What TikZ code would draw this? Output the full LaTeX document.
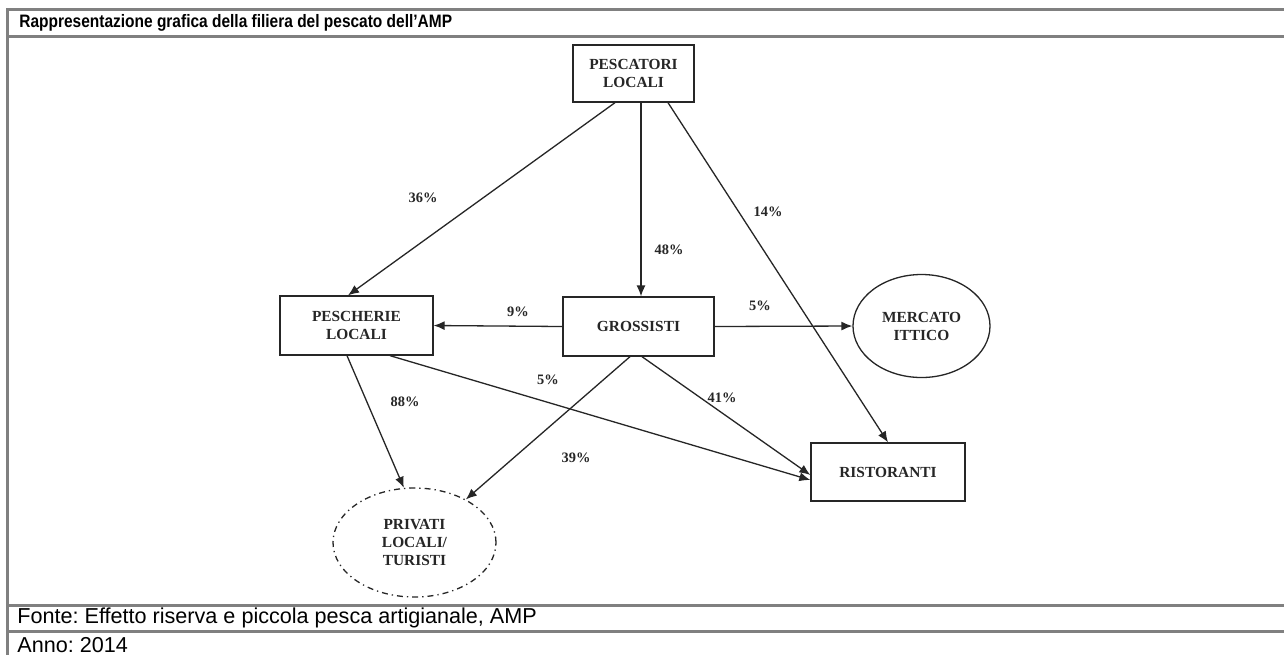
\documentclass[tikz,border=0pt]{standalone}
\usepackage{fontspec}
\setmainfont{Liberation Serif}
\setsansfont{Liberation Sans}
\newfontfamily\titlefont{Liberation Sans}[FakeStretch=0.86]
\usetikzlibrary{arrows.meta,shapes.geometric,calc}
\frenchspacing
\definecolor{frame}{HTML}{808080}
\definecolor{ink}{HTML}{262626}
\tikzset{
  rule/.style={draw=frame,line width=1.5pt},
  boxnode/.style={draw=ink,line width=0.65pt,rectangle,align=center,inner sep=0pt,
     font=\rmfamily\bfseries\fontsize{7.7pt}{9pt}\selectfont,text=ink},
  ellnode/.style={draw=ink,line width=0.65pt,ellipse,align=center,inner sep=0pt,
     font=\rmfamily\bfseries\fontsize{7.7pt}{9pt}\selectfont,text=ink},
  flow/.style={draw=ink,line width=0.65pt,-{Latex[length=5.5pt,width=4.5pt]}},
  pct/.style={font=\rmfamily\bfseries\fontsize{7.2pt}{8pt}\selectfont,text=ink,inner sep=0pt},
  captiontext/.style={anchor=west,inner sep=0pt,font=\sffamily\fontsize{10.8pt}{12pt}\selectfont},
}
\begin{document}
\begin{tikzpicture}[x=0.5pt,y=-0.5pt]
\useasboundingbox (0,0) rectangle (1284,655);
\fill[white] (0,0) rectangle (1284,655);
% table frame
\draw[rule] (6,9) -- (1284,9);
\draw[rule] (6,36) -- (1284,36);
\draw[rule] (6,605) -- (1284,605);
\draw[rule] (6,631) -- (1284,631);
\draw[rule] (7,8) -- (7,655);
\node[anchor=west,inner sep=0pt,font=\titlefont\bfseries\fontsize{9pt}{10pt}\selectfont] (title) at (19,22.5) {Rappresentazione grafica della filiera del pescato dell’AMP};
\node[captiontext] (fonte) at (17,618) {Fonte: Effetto riserva e piccola pesca artigianale, AMP};
\node[captiontext] (anno) at (17,645) {Anno: 2014};
% nodes
\node[boxnode,minimum width=60.5pt,minimum height=28.5pt] (pesc) at (633.5,73.5) {PESCATORI\\LOCALI};
\node[boxnode,minimum width=76.5pt,minimum height=29.5pt] (pesch) at (356.5,325.5) {PESCHERIE\\LOCALI};
\node[boxnode,minimum width=75.5pt,minimum height=29.5pt] (gros) at (638.5,326.5) {GROSSISTI};
\node[boxnode,minimum width=77pt,minimum height=29pt] (risto) at (888,472) {RISTORANTI};
\node[ellnode,minimum width=68.5pt,minimum height=51.5pt] (merc) at (921.5,326) {MERCATO\\ITTICO};
\node[ellnode,dash dot,minimum width=81.5pt,minimum height=54.5pt] (priv) at (414.5,542.5) {PRIVATI\\LOCALI/\\TURISTI};
% connectors
\draw[flow] ([xshift=-9.25pt]pesc.south) -- ([xshift=-4.25pt]pesch.north);
\draw[flow] ([xshift=3.75pt]pesc.south) -- ([xshift=1.25pt]gros.north);
\draw[flow] ([xshift=17.25pt]pesc.south) -- (risto.north);
\draw[flow] (gros.west) -- (pesch.east);
\draw[flow] (gros.east) -- (merc.west);
\draw[flow] ([xshift=-4.75pt]pesch.south) -- (priv.101);
\draw[flow] ([xshift=16.75pt]pesch.south) -- ([yshift=-4pt]risto.west);
\draw[flow] ([xshift=-4.25pt]gros.south) -- (priv.40);
\draw[flow] ([xshift=1.75pt]gros.south) -- ([yshift=-1.5pt]risto.west);
% labels
\node[pct] (l36) at (423,198) {36\%};
\node[pct] (l48) at (669,250) {48\%};
\node[pct] (l14) at (768,212) {14\%};
\node[pct] (l9) at (518,312) {9\%};
\node[pct] (l5a) at (760,306) {5\%};
\node[pct] (l88) at (405,402) {88\%};
\node[pct] (l5b) at (548,380) {5\%};
\node[pct] (l39) at (576,458) {39\%};
\node[pct] (l41) at (722,398) {41\%};
\end{tikzpicture}
\end{document}
